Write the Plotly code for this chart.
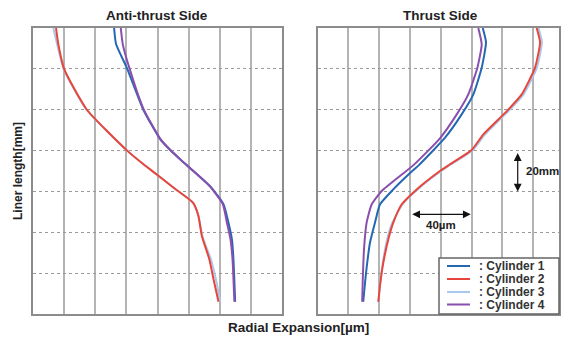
import plotly.graph_objects as go

W, H = 562, 338

# ---------------- data (x: radial expansion [um], depth: liner length from top [mm]) -------------
series_names = [": Cylinder 1", ": Cylinder 2", ": Cylinder 3", ": Cylinder 4"]
series_colors = ["#2468b4", "#e8463a", "#a9c8ec", "#8a4fae"]

# Anti-thrust side
anti_c1_depth = [0, 8, 19.5, 40, 54.4, 60, 64.3, 77.4, 86.3, 95.3, 103.4, 113.2, 134]
anti_c1_x = [52.1, 53.4, 60.3, 70.9, 81.7, 88.5, 94.5, 113.8, 122.4, 125.6, 127.8, 128.8, 129.9]
anti_c4_depth = [0, 8, 19.5, 40, 54.4, 60, 64.3, 77.4, 86.3, 95.3, 103.4, 113.2, 134]
anti_c4_x = [56.4, 57.7, 61.9, 71.2, 81.9, 88.6, 94.6, 113.5, 122.0, 124.6, 126.9, 128.2, 129.4]
anti_c2_depth = [0, 8, 20.3, 39.9, 59.9, 66.7, 71.6, 78.9, 85.5, 92, 101.8, 113.2, 123, 134]
anti_c2_x = [14.8, 16.3, 20.1, 34.5, 60.3, 71.0, 79.3, 91.6, 102.8, 106.3, 108.5, 113.3, 116.0, 119.2]
anti_c3_depth = [0, 8, 20.3, 39.9, 59.9, 66.7, 71.6, 78.9, 85.5, 92, 101.8, 113.2, 123, 134]
anti_c3_x = [13.1, 15.5, 19.8, 34.2, 60.3, 71.0, 79.3, 91.6, 102.8, 106.3, 108.8, 114.3, 117.5, 120.3]

# Thrust side
thr_c1_depth = [0, 7, 19.5, 32.5, 42.3, 53.7, 67, 71, 79, 86.3, 95.3, 105, 120, 134]
thr_c1_x = [107.3, 109.4, 106.6, 101.2, 93.6, 82.8, 66.0, 60.1, 49.2, 40.6, 37.3, 34.1, 31.5, 29.7]
thr_c4_depth = [0, 8, 19.5, 32.5, 42.3, 54, 67, 79.8, 86.3, 95.3, 108.3, 122.9, 134]
thr_c4_x = [104.4, 106.6, 103.8, 97.9, 90.4, 79.5, 62.5, 41.7, 35.2, 31.9, 30.2, 29.4, 29.0]
thr_c2_depth = [0, 7, 19.5, 32.5, 40.7, 52.1, 59.7, 66.7, 70, 79, 86.3, 95.3, 103.4, 115, 126, 134]
thr_c2_x = [142.3, 144.5, 141.2, 132.6, 122.9, 107.7, 100.1, 86.0, 79.5, 64.4, 54.7, 49.2, 46.0, 42.7, 40.6, 39.5]
thr_c3_depth = [0, 7, 19.5, 32.5, 40.7, 52.1, 59.7, 66.7, 70, 79, 86.3, 95.3, 103.4, 115, 126, 134]
thr_c3_x = [143.5, 145.7, 142.4, 133.8, 124.0, 108.8, 101.0, 86.8, 80.3, 65.0, 55.2, 48.6, 45.2, 42.4, 40.5, 39.6]

x_range_anti = [0, 160]
x_range_thr = [0, 156.8]
depth_range = [140, 0]
grid_step = 20

# --------------------------------------------------------------------------------------------------
def px_x(p):
    return p / W

def px_y(p):
    return 1 - p / H

fig = go.Figure()

panels = [
    ("x", "y", {1: (anti_c1_x, anti_c1_depth), 2: (anti_c2_x, anti_c2_depth),
                3: (anti_c3_x, anti_c3_depth), 4: (anti_c4_x, anti_c4_depth)}),
    ("x2", "y2", {1: (thr_c1_x, thr_c1_depth), 2: (thr_c2_x, thr_c2_depth),
                  3: (thr_c3_x, thr_c3_depth), 4: (thr_c4_x, thr_c4_depth)}),
]
draw_order = [3, 2, 1, 4]
for xa, ya, data in panels:
    for k in draw_order:
        xs, ds = data[k]
        fig.add_trace(go.Scatter(
            x=xs, y=ds, mode="lines", xaxis=xa, yaxis=ya,
            name=series_names[k - 1], showlegend=False,
            line=dict(color=series_colors[k - 1], width=2, shape="spline", smoothing=0.5),
        ))

font_family = "Liberation Sans, Arial, sans-serif"
xcommon = dict(showticklabels=False, ticks="", dtick=grid_step, tick0=0, showgrid=True,
               gridcolor="#b4b4b4", gridwidth=1.5, zeroline=False, showline=True,
               mirror=True, linecolor="#8c8c8c", linewidth=2)
ycommon = dict(showticklabels=False, ticks="", dtick=grid_step, tick0=0, showgrid=True,
               gridcolor="#9a9a9a", gridwidth=1, griddash="dot", zeroline=False,
               showline=True, mirror=True, linecolor="#8c8c8c", linewidth=2,
               range=depth_range)

ydom = [px_y(314), px_y(28)]
fig.update_layout(
    width=W, height=H, margin=dict(l=0, r=0, t=0, b=0),
    paper_bgcolor="white", plot_bgcolor="white",
    font=dict(family=font_family, color="#222"),
    xaxis=dict(domain=[px_x(33), px_x(282)], range=x_range_anti, **xcommon),
    yaxis=dict(domain=ydom, anchor="x", **ycommon),
    xaxis2=dict(domain=[px_x(317.5), px_x(559)], range=x_range_thr, anchor="y2", **xcommon),
    yaxis2=dict(domain=ydom, anchor="x2", **ycommon),
)

C = dict(xanchor="center", yanchor="middle", showarrow=False)
ann = []
ann.append(dict(text="<b>Anti-thrust Side</b>", x=px_x(157), y=px_y(15.5), xref="paper", yref="paper",
                font=dict(size=13.5, color="#222"), **C))
ann.append(dict(text="<b>Thrust Side</b>", x=px_x(440.5), y=px_y(15.5), xref="paper", yref="paper",
                font=dict(size=13.5, color="#222"), **C))
ann.append(dict(text="<b>Radial Expansion[µm]</b>", x=px_x(298), y=px_y(327), xref="paper", yref="paper",
                font=dict(size=13.5, color="#222"), **C))
ann.append(dict(text="<b>Liner length[mm]</b>", x=px_x(18), y=px_y(171), xref="paper", yref="paper",
                textangle=-90, font=dict(size=12, color="#222"), **C))
# 40 um double arrow
ann.append(dict(text="", x=99.5, y=91.2, ax=60.5, ay=91.2, xref="x2", yref="y2", axref="x2", ayref="y2",
                showarrow=True, arrowhead=2, arrowside="end+start", arrowsize=1.3, arrowwidth=1.2,
                arrowcolor="#111"))
ann.append(dict(text="<b>40µm</b>", x=80, y=96.3, xref="x2", yref="y2",
                font=dict(size=11.5, color="#222"), **C))
# 20 mm double arrow
ann.append(dict(text="", x=130, y=80, ax=130, ay=60.5, xref="x2", yref="y2", axref="x2", ayref="y2",
                showarrow=True, arrowhead=2, arrowside="end+start", arrowsize=1.3, arrowwidth=1.2,
                arrowcolor="#111"))
ann.append(dict(text="<b>20mm</b>", x=px_x(542), y=70.2, xref="paper", yref="y2",
                font=dict(size=11.5, color="#222"), **C))

# legend box (custom, compact)
shapes = [dict(type="rect", xref="paper", yref="paper", x0=px_x(439), x1=px_x(559),
               y0=px_y(314), y1=px_y(258), line=dict(color="#666", width=1.5), fillcolor="white",
               layer="above")]
legend_rows = [266, 279, 292, 304.5]
for i, ry in enumerate(legend_rows):
    shapes.append(dict(type="line", xref="paper", yref="paper", x0=px_x(447), x1=px_x(470),
                       y0=px_y(ry), y1=px_y(ry), line=dict(color=series_colors[i], width=2)))
    ann.append(dict(text="<b>" + series_names[i] + "</b>", x=px_x(477), y=px_y(ry), xref="paper",
                    yref="paper", xanchor="left", yanchor="middle", showarrow=False,
                    font=dict(size=12, color="#333")))

fig.update_layout(annotations=ann, shapes=shapes)
fig.write_html("out.html")
